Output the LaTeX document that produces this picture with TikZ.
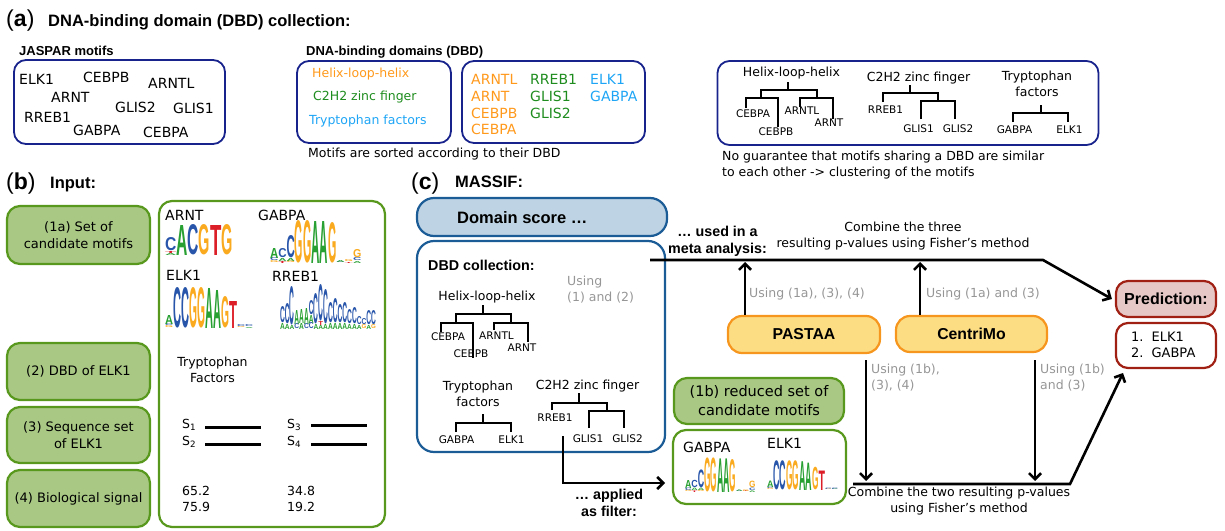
\documentclass[tikz,border=0pt]{standalone}
\usepackage{fontspec}
\setmainfont{DejaVu Sans}
\newfontfamily\hd{Liberation Sans}
\usetikzlibrary{arrows.meta}
\definecolor{navy}{RGB}{24,36,140}
\definecolor{orgtxt}{RGB}{255,153,28}
\definecolor{grntxt}{RGB}{30,140,30}
\definecolor{blutxt}{RGB}{30,165,245}
\definecolor{gfill}{RGB}{168,200,132}
\definecolor{gline}{RGB}{88,152,28}
\definecolor{dsfill}{RGB}{190,212,228}
\definecolor{dsline}{RGB}{28,92,150}
\definecolor{ofill}{RGB}{252,221,132}
\definecolor{oline}{RGB}{246,150,30}
\definecolor{pfill}{RGB}{230,200,198}
\definecolor{pline}{RGB}{160,32,20}
\definecolor{greytxt}{RGB}{150,150,150}
\definecolor{lgA}{RGB}{40,160,50}
\definecolor{lgC}{RGB}{40,85,170}
\definecolor{lgG}{RGB}{250,170,30}
\definecolor{lgT}{RGB}{220,30,40}
\newcommand\seqlogo[5]{%
  \foreach \cl [count=\ci] in {#5}{%
    \foreach \lt/\lh [evaluate=\lh as \lhs using \lh*#4,
                      evaluate=\lh as \ltop using \lbot+\lh*#4,
                      remember=\ltop as \lbot (initially 0)] in \cl {%
      \node[lgl, anchor=south west] at ({#1+(\ci-1)*#3},{#2-\lbot}) {\resizebox{#3pt}{\lhs pt}{\textcolor{lg\lt}{\lt}}};
    }}}
\begin{document}
\begin{tikzpicture}[x=1pt,y=-1pt,
  t/.style={inner sep=0, font=\fontsize{12.5}{16}\selectfont},
  tb/.style={inner sep=0, font=\fontsize{13}{17}\selectfont},
  tl/.style={inner sep=0, font=\fontsize{14}{17}\selectfont},
  ts/.style={inner sep=0, font=\fontsize{10.5}{12}\selectfont},
  bh/.style={inner sep=0, font=\hd\bfseries\fontsize{16.5}{19}\selectfont},
  bs/.style={inner sep=0, font=\hd\bfseries\fontsize{13}{16}\selectfont},
  bm/.style={inner sep=0, font=\hd\bfseries\fontsize{14.3}{17}\selectfont},
  pl/.style={inner sep=0, font=\hd\fontsize{23}{26}\selectfont},
  lgl/.style={inner sep=0, outer sep=0, font=\hd\bfseries},
  nbox/.style={draw=navy, line width=1.8pt, rounded corners=12pt},
  gbox/.style={draw=gline, fill=gfill, line width=2.2pt, rounded corners=13pt, align=center, font=\fontsize{13}{17}\selectfont},
  wgbox/.style={draw=gline, fill=white, line width=2.2pt, rounded corners=13pt},
  dsbox/.style={draw=dsline, fill=dsfill, line width=2.2pt, rounded corners=17pt},
  bbox/.style={draw=dsline, line width=2.2pt, rounded corners=17pt},
  obox/.style={draw=oline, fill=ofill, line width=2.2pt, rounded corners=14pt, font=\hd\bfseries\fontsize{15.8}{19}\selectfont},
  pbox/.style={draw=pline, line width=2.2pt, rounded corners=12pt},
  dend/.style={line width=2pt},
  sline/.style={line width=3pt},
  arr/.style={line width=2.6pt, -{Straight Barb[length=6pt,width=12pt]}},
  gry/.style={text=greytxt}
]
\useasboundingbox (0,0) rectangle (1225,530);

%% ---------------- (a)
\node[pl, anchor=base west] (la) at (6,27) {(\textbf{a})};
\node[bh, anchor=base west] (ta) at (48,26) {DNA-binding domain (DBD) collection:};
\node[bs, anchor=west] (tj) at (19,51) {JASPAR motifs};
\node[nbox, minimum width=211, minimum height=84] (jb) at (119.5,102) {};
\node[tl, anchor=west] (j1) at (19,79) {ELK1};
\node[tl, anchor=west] (j2) at (83,77) {CEBPB};
\node[tl, anchor=west] (j3) at (148,83) {ARNTL};
\node[tl, anchor=west] (j4) at (51,97) {ARNT};
\node[tl, anchor=west] (j5) at (115,107) {GLIS2};
\node[tl, anchor=west] (j6) at (173,108) {GLIS1};
\node[tl, anchor=west] (j7) at (24,117) {RREB1};
\node[tl, anchor=west] (j8) at (73,130) {GABPA};
\node[tl, anchor=west] (j9) at (143,132) {CEBPA};

\node[bs, anchor=west] (td) at (306,52) {DNA-binding domains (DBD)};
\node[nbox, minimum width=154, minimum height=82] (db) at (374,102) {};
\node[t, anchor=west, text=orgtxt] (d1) at (312,74) {Helix-loop-helix};
\node[t, anchor=west, text=grntxt] (d2) at (313,97) {C2H2 zinc finger};
\node[t, anchor=west, text=blutxt] (d3) at (309,121) {Tryptophan factors};
\node[nbox, minimum width=183, minimum height=82] (mb) at (553.5,102) {};
\node[tl, anchor=west, text=orgtxt] (m1) at (471,79) {ARNTL};
\node[tl, anchor=west, text=orgtxt] (m2) at (471,96) {ARNT};
\node[tl, anchor=west, text=orgtxt] (m3) at (471,113) {CEBPB};
\node[tl, anchor=west, text=orgtxt] (m4) at (471,129) {CEBPA};
\node[tl, anchor=west, text=grntxt] (m5) at (530,79) {RREB1};
\node[tl, anchor=west, text=grntxt] (m6) at (530,96) {GLIS1};
\node[tl, anchor=west, text=grntxt] (m7) at (530,113) {GLIS2};
\node[tl, anchor=west, text=blutxt] (m8) at (590,79) {ELK1};
\node[tl, anchor=west, text=blutxt] (m9) at (590,96) {GABPA};
\node[t, anchor=west] (cap1) at (308,154) {Motifs are sorted according to their DBD};

\node[nbox, minimum width=381, minimum height=84] (cb) at (908,103) {};
\node[t] (h1) at (791.5,73) {Helix-loop-helix};
\draw[dend] (788,82) -- (788,90);
\draw[dend] (761,98) -- (761,90) -- (817,90) -- (817,98);
\draw[dend] (746,108) -- (746,98) -- (778,98) -- (778,127);
\draw[dend] (800,107) -- (800,98) -- (833,98) -- (833,119);
\node[ts] (h1a) at (753,114) {CEBPA};
\node[ts] (h1b) at (776,132) {CEBPB};
\node[ts] (h1c) at (802,111) {ARNTL};
\node[ts] (h1d) at (829,123) {ARNT};
\node[t] (h2) at (918.5,78) {C2H2 zinc finger};
\draw[dend] (910,85) -- (910,93);
\draw[dend] (883,102) -- (883,93) -- (938,93) -- (938,101);
\draw[dend] (921,119) -- (921,101) -- (955,101) -- (955,119);
\node[ts] (h2a) at (885.5,110) {RREB1};
\node[ts] (h2b) at (918.5,129) {GLIS1};
\node[ts] (h2c) at (958,129) {GLIS2};
\node[t, align=center] (h3) at (1037,84) {Tryptophan\\factors};
\draw[dend] (1041,105) -- (1041,113);
\draw[dend] (1013,122) -- (1013,113) -- (1068,113) -- (1068,122);
\node[ts] (h3a) at (1014.5,130) {GABPA};
\node[ts] (h3b) at (1069.5,130) {ELK1};
\node[t, anchor=west, align=left] (cap2) at (722,165) {No guarantee that motifs sharing a DBD are similar\\to each other -> clustering of the motifs};

%% ---------------- (b)
\node[pl, anchor=base west] (lb) at (6,189) {(\textbf{b})};
\node[bh, anchor=base west] (tbh) at (50,188) {Input:};
\node[gbox, minimum width=143, minimum height=58] (i1) at (78.5,235) {(1a) Set of\\candidate motifs};
\node[gbox, minimum width=143, minimum height=57] (i2) at (78.5,371.5) {(2) DBD of ELK1};
\node[gbox, minimum width=143, minimum height=56] (i3) at (78.5,435) {(3) Sequence set\\of ELK1};
\node[gbox, minimum width=143, minimum height=57] (i4) at (78.5,498.5) {(4) Biological signal};
\node[wgbox, minimum width=226, minimum height=326] (ib) at (272,364) {};
\node[tl, anchor=west] (l1) at (165,215) {ARNT};
\node[tl, anchor=west] (l2) at (258,215) {GABPA};
\node[tl, anchor=west] (l3) at (166,275) {ELK1};
\node[tl, anchor=west] (l4) at (272,276) {RREB1};
\seqlogo{165}{255}{11.3}{1}{{A/2,T/2,C/13},{A/30},{C/30},{G/30},{T/30},{G/30}}
\seqlogo{270}{263}{8.3}{1}{{G/2,C/3,A/10},{T/2,A/3,C/9},{G/2,A/3,C/22},{G/42},{G/42},{A/42},{A/42},{G/40},{C/1,A/2},{T/1,G/2},{A/2,C/3,G/8}}
\seqlogo{165}{328}{8}{1}{{G/2,C/2,A/9},{C/40},{C/40},{G/40},{G/40},{A/40},{A/38},{G/31},{T/27},{G/1,C/2},{A/1,C/2}}
\seqlogo{280}{329}{4.8}{1}{{A/6,C/16},{A/5,C/20},{A/4,C/38},{C/5,A/14},{A/6,A/14},{C/5,A/16},{C/6,A/8,C/14},{A/5,C/30},{A/4,T/4,C/36},{A/5,C/34},{A/6,C/20},{A/6,C/24},{A/6,C/18},{A/6,C/20},{A/5,C/14},{A/5,C/16},{A/4,C/8},{G/4,C/6},{A/4,C/14},{G/4,C/14}}
\node[t, align=center] (tf) at (212.5,370) {Tryptophan\\Factors};
\node[t, anchor=west] (s1) at (182,425) {S\textsubscript{1}};
\node[t, anchor=west] (s2) at (182,442) {S\textsubscript{2}};
\node[t, anchor=west] (s3) at (287,425) {S\textsubscript{3}};
\node[t, anchor=west] (s4) at (287,442) {S\textsubscript{4}};
\draw[sline] (205,427) -- (261,427);
\draw[sline] (205,444) -- (261,444);
\draw[sline] (311,425) -- (367,425);
\draw[sline] (311,444) -- (367,444);
\node[t, anchor=west, align=left] (v1) at (182,499) {65.2\\75.9};
\node[t, anchor=west, align=left] (v2) at (287,499) {34.8\\19.2};

%% ---------------- (c)
\node[pl, anchor=base west] (lc) at (411,189) {(\textbf{c})};
\node[bh, anchor=base west] (tc) at (455,187.5) {MASSIF:};
\node[dsbox, minimum width=250, minimum height=38] (ds) at (542,217) {};
\node[bh, anchor=west] (dst) at (457,218) {Domain score …};
\node[bbox, minimum width=248, minimum height=211] (dc) at (541,346.5) {};
\node[bm, anchor=west] (dct) at (428,265) {DBD collection:};
\node[t, gry, anchor=west, align=left] (u0) at (567,289.5) {Using\\(1) and (2)};
\node[t] (c1) at (487,297) {Helix-loop-helix};
\draw[dend] (483,305) -- (483,314);
\draw[dend] (456,323) -- (456,314) -- (511,314) -- (511,323);
\draw[dend] (441,332) -- (441,323) -- (473,323) -- (473,358);
\draw[dend] (494,330) -- (494,323) -- (528,323) -- (528,342);
\node[ts] (c1a) at (448,337) {CEBPA};
\node[ts] (c1b) at (471,354) {CEBPB};
\node[ts] (c1c) at (496.5,336) {ARNTL};
\node[ts] (c1d) at (522,348) {ARNT};
\node[t, align=center] (c2) at (478,393.5) {Tryptophan\\factors};
\draw[dend] (483,414) -- (483,423);
\draw[dend] (456,432) -- (456,423) -- (511,423) -- (511,432);
\node[ts] (c2a) at (456.5,440) {GABPA};
\node[ts] (c2b) at (511.5,440) {ELK1};
\node[t] (c3) at (587.5,386) {C2H2 zinc finger};
\draw[dend] (579,393) -- (579,403);
\draw[dend] (552,410) -- (552,403) -- (607,403) -- (607,411);
\draw[dend] (589,428) -- (589,411) -- (624,411) -- (624,428);
\node[ts] (c3a) at (555,418) {RREB1};
\node[ts] (c3b) at (588,439) {GLIS1};
\node[ts] (c3c) at (627.5,439) {GLIS2};

\node[gbox, minimum width=170, minimum height=46, font=\fontsize{14.5}{19}\selectfont] (r1) at (759,401) {(1b) reduced set of\\candidate motifs};
\node[wgbox, minimum width=173, minimum height=74] (r2) at (759.5,467) {};
\node[tl, anchor=west] (rl1) at (683,447) {GABPA};
\node[tl, anchor=west] (rl2) at (767,443) {ELK1};
\seqlogo{685}{492}{6.4}{0.8}{{G/2,C/3,A/10},{T/2,A/3,C/9},{G/2,A/3,C/22},{G/42},{G/42},{A/42},{A/42},{G/40},{C/1,A/2},{T/1,G/2},{A/2,C/3,G/8}}
\seqlogo{767}{490}{6.45}{0.72}{{G/2,C/2,A/9},{C/40},{C/40},{G/40},{G/40},{A/40},{A/38},{G/31},{T/27},{G/1,C/2},{A/1,C/2}}

\node[obox, minimum width=152, minimum height=37] (pa) at (804,334.5) {PASTAA};
\node[obox, minimum width=151, minimum height=36] (ce) at (971.5,334) {CentriMo};
\node[pbox, fill=pfill, minimum width=100, minimum height=36, font=\hd\bfseries\fontsize{16}{19}\selectfont] (pr) at (1166,299) {Prediction:};
\node[pbox, fill=white, minimum width=100, minimum height=45] (pl) at (1166,345.5) {};
\node[tb, anchor=west] (pl1) at (1131,346) {\begin{tabular}{@{}l@{\hspace{8pt}}l@{}}1.&ELK1\\[-1pt]2.&GABPA\end{tabular}};

% connectors
\coordinate (t1) at (650,260);
\coordinate (t2) at (1043,260);
\coordinate (pu) at (745,262);
\coordinate (cu) at (920,262);
\coordinate (pd1) at (866,360);
\coordinate (pd2) at (866,481);
\coordinate (cd1) at (1035,360);
\coordinate (cd2) at (1035,481);
\coordinate (b1) at (853,484);
\coordinate (b2) at (1070,484);
\coordinate (pe) at (1123,373);
\coordinate (f1) at (563,436);
\coordinate (f2) at (665,483);
\draw[arr] (t1) -- (t2) -- ([xshift=-3pt]pr.west);
\draw[arr] (pa.north -| pu) -- (pu);
\draw[arr] (ce.north -| cu) -- (cu);
\draw[arr] (pd1) -- (pd2);
\draw[arr] (cd1) -- (cd2);
\draw[arr] (b1) -- (b2) -- (pe);
\draw[arr] (f1) |- (f2);

\node[bm, align=center] (ua) at (717.5,241.5) {… used in a\\meta analysis:};
\node[t, align=center] (cm3) at (903,236.5) {Combine the three\\resulting p-values using Fisher’s method};
\node[t, gry, anchor=west] (g1) at (749,294) {Using (1a), (3), (4)};
\node[t, gry, anchor=west] (g2) at (926,294) {Using (1a) and (3)};
\node[t, gry, anchor=west, align=left] (g3) at (871,378) {Using (1b),\\(3), (4)};
\node[t, gry, anchor=west, align=left] (g4) at (1040,378) {Using (1b)\\and (3)};
\node[t, align=center] (cm2) at (959,501) {Combine the two resulting p-values\\using Fisher’s method};
\node[bm, align=center] (ap) at (609,503) {… applied\\as filter:};
\end{tikzpicture}
\end{document}
